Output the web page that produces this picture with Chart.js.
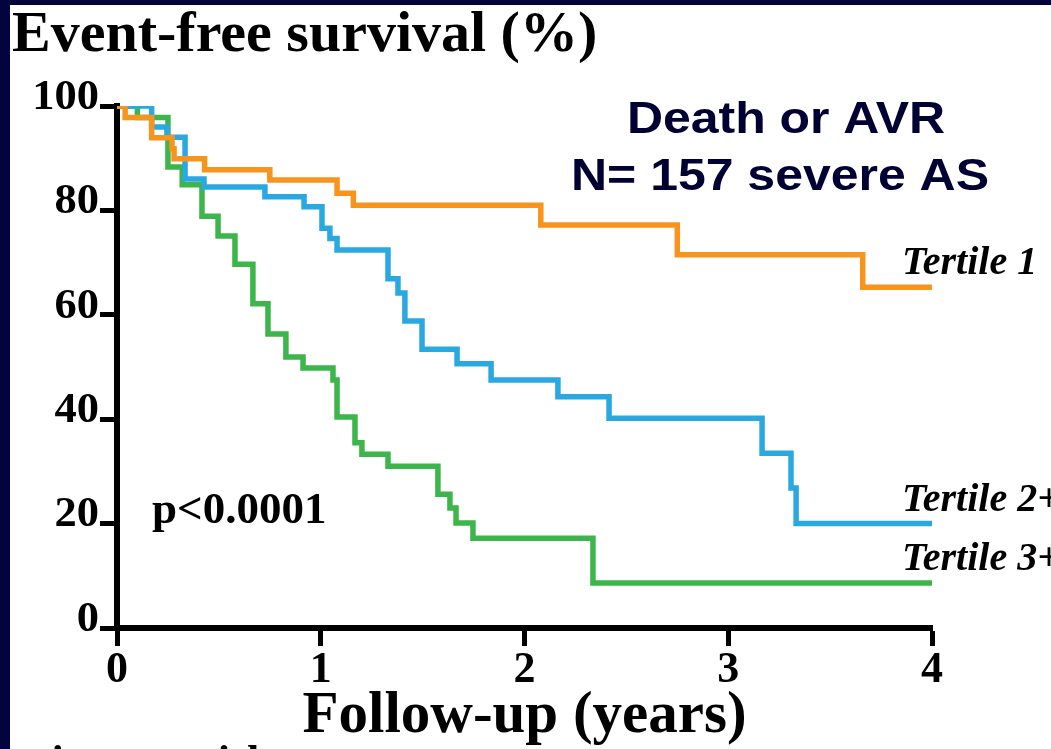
<!DOCTYPE html>
<html>
<head>
<meta charset="utf-8">
<title>Event-free survival</title>
<script src="https://cdn.jsdelivr.net/npm/chart.js@4.4.1/dist/chart.umd.min.js"></script>
<style>
  html, body { margin: 0; padding: 0; background: #fff; }
  #wrap { position: relative; width: 1051px; height: 749px; overflow: hidden; }
  #frameLeft { position: absolute; left: 0; top: 0; width: 10px; height: 749px; background: #03033d; }
  #frameTop { position: absolute; left: 0; top: 0; width: 1051px; height: 5px; background: #03033d; }
</style>
</head>
<body>
<div id="wrap">
  <canvas id="kmChart" width="1051" height="749"></canvas>
  <div id="frameLeft"></div>
  <div id="frameTop"></div>
</div>
<script>
// axis ticks
const xTicks = [0, 1, 2, 3, 4];
const yTicks = [0, 20, 40, 60, 80, 100];

// Kaplan-Meier steps: time of each drop (years) and survival after it (%)
const tertile1Time = [0, 0.04, 0.17, 0.27, 0.28, 0.43, 0.75, 1.08, 1.16, 2.08, 2.75, 3.66, 4.0];
const tertile1Surv = [100, 97.8, 93.9, 91.8, 89.9, 87.8, 85.8, 83.3, 81.0, 77.2, 71.5, 65.3, 65.3];

const tertile2Time = [0, 0.17, 0.245, 0.334, 0.427, 0.726, 0.918, 1.006, 1.045, 1.08, 1.33, 1.379, 1.413, 1.497, 1.669, 1.836, 2.164, 2.415, 3.166, 3.308, 3.333, 4.0];
const tertile2Surv = [100, 96.0, 94.0, 86.0, 84.5, 82.6, 80.7, 76.6, 74.6, 72.4, 66.9, 64.2, 58.8, 53.4, 50.6, 47.5, 44.3, 40.2, 33.5, 26.8, 20.0, 20.0];

const tertile3Time = [0, 0.1, 0.25, 0.32, 0.417, 0.496, 0.579, 0.667, 0.741, 0.829, 0.913, 1.06, 1.08, 1.168, 1.202, 1.33, 1.575, 1.634, 1.664, 1.747, 2.336, 4.0];
const tertile3Surv = [100, 97.8, 88.3, 84.9, 78.9, 75.1, 69.7, 62.1, 56.3, 51.9, 49.8, 47.5, 40.4, 35.5, 33.3, 31.0, 25.6, 23.0, 20.1, 17.2, 8.6, 8.6];

const seriesNames = ['Tertile 1', 'Tertile 2+', 'Tertile 3+'];

function toPoints(times, surv) {
  return times.map((t, i) => ({ x: t, y: surv[i] }));
}

function kmLine(label, times, surv, color) {
  return {
    label: label,
    data: toPoints(times, surv),
    borderColor: color,
    borderWidth: 5.5,
    stepped: 'before',
    pointRadius: 0,
    fill: false,
    borderJoinStyle: 'miter',
    borderCapStyle: 'round'
  };
}

// text squeezed/widened sideways (the slide text runs wider than the font)
function wideText(ctx, text, x, y, sx) {
  ctx.save();
  ctx.translate(x, y);
  ctx.scale(sx, 1);
  ctx.fillText(text, 0, 0);
  ctx.restore();
}

// free text on the slide: tick labels, curve names, p value, header
const slideText = {
  id: 'slideText',
  afterDraw(chart) {
    const { ctx, chartArea, scales: { x, y } } = chart;
    ctx.save();

    ctx.fillStyle = '#000';
    ctx.font = 'bold 42px "Liberation Serif"';
    ctx.textAlign = 'right';
    ctx.textBaseline = 'middle';
    y.ticks.forEach(t => {
      wideText(ctx, String(t.value), y.right - 18, y.getPixelForValue(t.value) - 8, 1.06);
    });

    ctx.font = 'italic bold 40px "Liberation Serif"';
    ctx.textAlign = 'left';
    ctx.textBaseline = 'alphabetic';
    chart.data.datasets.forEach(ds => {
      const last = ds.data[ds.data.length - 1];
      ctx.fillText(ds.label, x.getPixelForValue(last.x) - 30, y.getPixelForValue(last.y) - 13);
    });

    ctx.font = 'bold 45px "Liberation Serif"';
    ctx.fillText('p<0.0001', chartArea.left + 35, 523);

    ctx.font = 'bold 44px "Liberation Serif"';
    ctx.fillText('Patients at risk', -12, 776);

    ctx.fillStyle = '#000033';
    ctx.font = 'bold 45px "Liberation Sans"';
    ctx.textAlign = 'center';
    wideText(ctx, 'Death or AVR', 786, 133, 1.11);
    wideText(ctx, 'N= 157 severe AS', 780, 190, 1.11);

    ctx.restore();
  }
};

new Chart(document.getElementById('kmChart'), {
  type: 'line',
  data: {
    datasets: [
      kmLine(seriesNames[0], tertile1Time, tertile1Surv, '#f7941e'),
      kmLine(seriesNames[1], tertile2Time, tertile2Surv, '#29a9e0'),
      kmLine(seriesNames[2], tertile3Time, tertile3Surv, '#3cb54a')
    ]
  },
  options: {
    responsive: false,
    animation: false,
    devicePixelRatio: 1,
    layout: { padding: { left: 12, right: 119, top: 0, bottom: 0 } },
    plugins: {
      legend: { display: false },
      tooltip: { enabled: false },
      title: {
        display: true,
        text: 'Event-free survival (%)',
        align: 'start',
        color: '#000',
        font: { family: 'Liberation Serif', size: 58, weight: 'bold', lineHeight: 1 },
        padding: { top: 7, bottom: 41 }
      }
    },
    scales: {
      x: {
        type: 'linear',
        min: 0,
        max: 4,
        afterBuildTicks: s => { s.ticks = xTicks.map(v => ({ value: v })); },
        afterFit: s => { s.height = 121; },
        grid: { drawOnChartArea: false, drawTicks: true, tickLength: 18, tickWidth: 5, tickColor: '#000' },
        border: { display: true, color: '#000', width: 6 },
        ticks: {
          color: '#000',
          padding: 3,
          maxRotation: 0,
          font: { family: 'Liberation Serif', size: 44, weight: 'bold', lineHeight: 1 }
        },
        title: {
          display: true,
          text: 'Follow-up (years)',
          color: '#000',
          font: { family: 'Liberation Serif', size: 59, weight: 'bold', lineHeight: 1 },
          padding: { top: 0, bottom: 3 }
        }
      },
      y: {
        type: 'linear',
        min: 0,
        max: 100,
        afterBuildTicks: s => { s.ticks = yTicks.map(v => ({ value: v })); },
        afterFit: s => { s.width = 105; },
        grid: { drawOnChartArea: false, drawTicks: true, tickLength: 17, tickWidth: 5, tickColor: '#000' },
        border: { display: true, color: '#000', width: 6 },
        ticks: { display: false }
      }
    }
  },
  plugins: [slideText]
});
</script>
</body>
</html>
